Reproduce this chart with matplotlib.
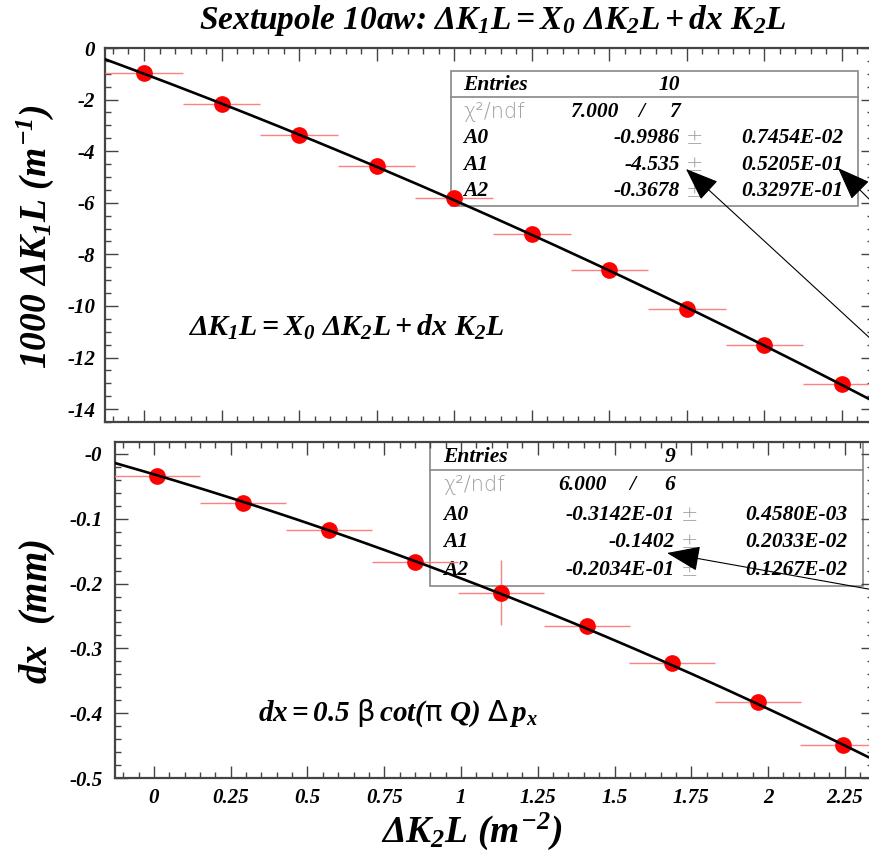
import numpy as np
import matplotlib
matplotlib.use("Agg")
import matplotlib.pyplot as plt
from matplotlib.patches import Rectangle, FancyArrowPatch, ArrowStyle
from matplotlib.lines import Line2D
from matplotlib.ticker import MultipleLocator, FixedLocator, FixedFormatter

plt.rcParams['font.family'] = ['Liberation Serif', 'DejaVu Sans']
plt.rcParams['font.style'] = 'italic'
plt.rcParams['font.weight'] = 'bold'
plt.rcParams['mathtext.fontset'] = 'custom'
plt.rcParams['mathtext.rm'] = 'Liberation Serif:italic:bold'
plt.rcParams['mathtext.it'] = 'Liberation Serif:italic:bold'
plt.rcParams['mathtext.bf'] = 'Liberation Serif:bold'
plt.rcParams['mathtext.sf'] = 'DejaVu Sans:weight=normal:style=normal'

# ---------------- data ----------------
# top panel: 1000*dK1L vs dK2L
top_x = [0.0, 0.25, 0.50, 0.75, 1.00, 1.25, 1.50, 1.75, 2.00, 2.25]
top_y = [-0.97, -2.17, -3.37, -4.57, -5.81, -7.21, -8.60, -10.12, -11.51, -13.02]
top_xerr = [0.125] * 10
top_fit = [-0.9986, -4.535, -0.3678]          # A0, A1, A2
top_fit_err = ["0.7454E-02", "0.5205E-01", "0.3297E-01"]
top_fit_val = ["-0.9986", "-4.535", "-0.3678"]
top_entries = "10"
top_chi2 = ["7.000", "7"]

# bottom panel: dx vs dK2L
bot_x = [0.010, 0.290, 0.570, 0.850, 1.130, 1.410, 1.687, 1.967, 2.244]
bot_y = [-0.034, -0.075, -0.118, -0.166, -0.214, -0.265, -0.322, -0.383, -0.449]
bot_xerr = [0.139] * 9
bot_yerr = [0.0, 0.0, 0.0, 0.0, 0.05, 0.0, 0.0, 0.0, 0.0]
bot_fit = [-0.03142, -0.1402, -0.02034]
bot_fit_err = ["0.4580E-03", "0.2033E-02", "0.1267E-02"]
bot_fit_val = ["-0.3142E-01", "-0.1402", "-0.2034E-01"]
bot_entries = "9"
bot_chi2 = ["6.000", "6"]

top_yticks = [0, -2, -4, -6, -8, -10, -12, -14]
top_yticklabels = ["0", "-2", "-4", "-6", "-8", "-10", "-12", "-14"]
bot_yticks = [0, -0.1, -0.2, -0.3, -0.4, -0.5]
bot_yticklabels = ["-0", "-0.1", "-0.2", "-0.3", "-0.4", "-0.5"]
xticks = [0, 0.25, 0.5, 0.75, 1.0, 1.25, 1.5, 1.75, 2.0, 2.25]
xticklabels = ["0", "0.25", "0.5", "0.75", "1", "1.25", "1.5", "1.75", "2", "2.25"]

W, H = 869, 855
fig = plt.figure(figsize=(W / 100, H / 100), dpi=100, facecolor='white')


def fx(x):
    return x / W


def fy(y):
    return 1 - y / H


def make_axes(l, t, r, b):
    return fig.add_axes([fx(l), fy(b), fx(r) - fx(l), fy(t) - fy(b)])


ax1 = make_axes(105, 48, 873, 422)
ax2 = make_axes(115, 442, 873, 778)

ax1.set_xlim(-0.1257, 2.350)
ax1.set_ylim(-14.5, 0)
ax2.set_xlim(-0.127, 2.342)
ax2.set_ylim(-0.5, 0.0185)

frame_col = '#444444'
for ax in (ax1, ax2):
    for s in ax.spines.values():
        s.set_color(frame_col)
        s.set_linewidth(1.6)
    ax.tick_params(which='both', direction='in', top=True, right=True,
                   color=frame_col, width=1.0, labelsize=15, pad=7)
    ax.tick_params(which='major', length=9)
    ax.tick_params(which='minor', length=4.5)
    ax.xaxis.set_major_locator(FixedLocator(xticks))
    ax.xaxis.set_minor_locator(MultipleLocator(0.05))
    ax.set_facecolor('white')

ax1.xaxis.set_major_formatter(FixedFormatter([""] * len(xticks)))
ax2.xaxis.set_major_formatter(FixedFormatter(xticklabels))
ax1.yaxis.set_major_locator(FixedLocator(top_yticks))
ax1.yaxis.set_major_formatter(FixedFormatter(top_yticklabels))
ax1.yaxis.set_minor_locator(MultipleLocator(0.5))
ax2.yaxis.set_major_locator(FixedLocator(bot_yticks))
ax2.yaxis.set_major_formatter(FixedFormatter(bot_yticklabels))
ax2.yaxis.set_minor_locator(MultipleLocator(0.02))
ax2.tick_params(axis='y', pad=9)

err_col = '#ff8080'

# data
ax1.errorbar(top_x, top_y, xerr=top_xerr, fmt='o', color='#ff0000', ms=11,
             ecolor=err_col, elinewidth=1.0, capsize=0, zorder=3)
ax2.errorbar(bot_x, bot_y, xerr=bot_xerr, yerr=bot_yerr, fmt='o', color='#ff0000',
             ms=11, ecolor=err_col, elinewidth=1.0, capsize=0, zorder=3)

# fit curves
for ax, p in ((ax1, top_fit), (ax2, bot_fit)):
    xl = ax.get_xlim()
    xx = np.linspace(xl[0], xl[1], 200)
    ax.plot(xx, p[0] + p[1] * xx + p[2] * xx ** 2, color='black', lw=1.9, zorder=4)


# stats boxes
def stats_box(ax, l, t, r, b, sep, rows_y, x_lab, x_mid, x_slash, x_chi_r,
              x_pm, x_err, entries, chi2, vals, errs):
    ax.add_patch(Rectangle((fx(l), fy(b)), fx(r) - fx(l), fy(t) - fy(b),
                           transform=fig.transFigure, facecolor='white',
                           edgecolor='#888888', lw=1.2, zorder=1, clip_on=False))
    ax.add_line(Line2D([fx(l), fx(r)], [fy(sep), fy(sep)], transform=fig.transFigure,
                       color='#888888', lw=1.2, zorder=1.1, clip_on=False))
    kw = dict(transform=fig.transFigure, fontsize=15.5, va='center', zorder=2)
    gkw = dict(transform=fig.transFigure, fontsize=15, va='center', zorder=2,
               color='#a0a0a0', family='DejaVu Sans', style='normal', weight='light')
    ax.text(fx(x_lab), fy(rows_y[0]), "Entries", ha='left', **kw)
    ax.text(fx(x_mid), fy(rows_y[0]), entries, ha='right', **kw)
    ax.text(fx(x_lab), fy(rows_y[1]), "χ²/ndf", ha='left', **gkw)
    ax.text(fx(x_chi_r), fy(rows_y[1]), chi2[0], ha='right', **kw)
    ax.text(fx(x_slash), fy(rows_y[1]), "/", ha='center', **kw)
    ax.text(fx(x_mid), fy(rows_y[1]), chi2[1], ha='right', **kw)
    for i, nm in enumerate(["A0", "A1", "A2"]):
        yy = fy(rows_y[2 + i])
        ax.text(fx(x_lab), yy, nm, ha='left', **kw)
        ax.text(fx(x_mid), yy, vals[i], ha='right', **kw)
        ax.text(fx(x_pm), yy, "±", ha='center', **gkw)
        ax.text(fx(x_err), yy, errs[i], ha='right', **kw)


stats_box(ax1, 451, 71, 858, 206, 97, [85, 112, 138, 165, 191],
          463, 680, 641, 618, 695, 843, top_entries, top_chi2, top_fit_val, top_fit_err)
stats_box(ax2, 430, 442, 863, 586, 470, [457, 485, 515, 542, 570],
          443, 675, 632, 607, 690, 847, bot_entries, bot_chi2, bot_fit_val, bot_fit_err)

# formulas
ax1.text(fx(188), fy(327), r'$\mathbf{\Delta}K_{1}L = X_{0}\ \mathbf{\Delta}K_{2}L + dx\ K_{2}L$',
         transform=fig.transFigure, fontsize=21.5, ha='left', va='center', zorder=5)
ax2.text(fx(258), fy(713), r'$dx = 0.5\ \mathsf{\beta}\,cot(\mathsf{\pi}\ Q)\ \mathsf{\Delta}\,p_{x}$',
         transform=fig.transFigure, fontsize=21, ha='left', va='center', zorder=5)

# title and axis labels
fig.text(fx(493), fy(20), r'Sextupole 10aw: $\mathbf{\Delta}K_{1}L = X_{0}\ \mathbf{\Delta}K_{2}L + dx\ K_{2}L$',
         fontsize=24, ha='center', va='center')
fig.text(fx(35), fy(236), r'$1000\ \mathbf{\Delta}K_{1}L\ (m^{-1})$', fontsize=27,
         rotation=90, ha='center', va='center')
fig.text(fx(38), fy(612), r'$dx\ \ (mm)$', fontsize=28, rotation=90,
         ha='center', va='center')
fig.text(fx(472), fy(831), r'$\mathbf{\Delta}K_{2}L\ (m^{-2})$', fontsize=27,
         ha='center', va='center')


# arrows
def arrow(tail, tip):
    st = ArrowStyle('-|>', head_length=21.0, head_width=8.0)
    a = FancyArrowPatch((fx(tail[0]), fy(tail[1])), (fx(tip[0]), fy(tip[1])),
                        transform=fig.transFigure, arrowstyle=st, mutation_scale=1,
                        color='black', lw=0.8, shrinkA=0, shrinkB=0, zorder=10)
    fig.add_artist(a)


arrow((885, 352), (686, 169))
arrow((885, 215), (838, 168))
arrow((885, 592), (667, 553))

fig.savefig('out.png', dpi=100, facecolor='white')
